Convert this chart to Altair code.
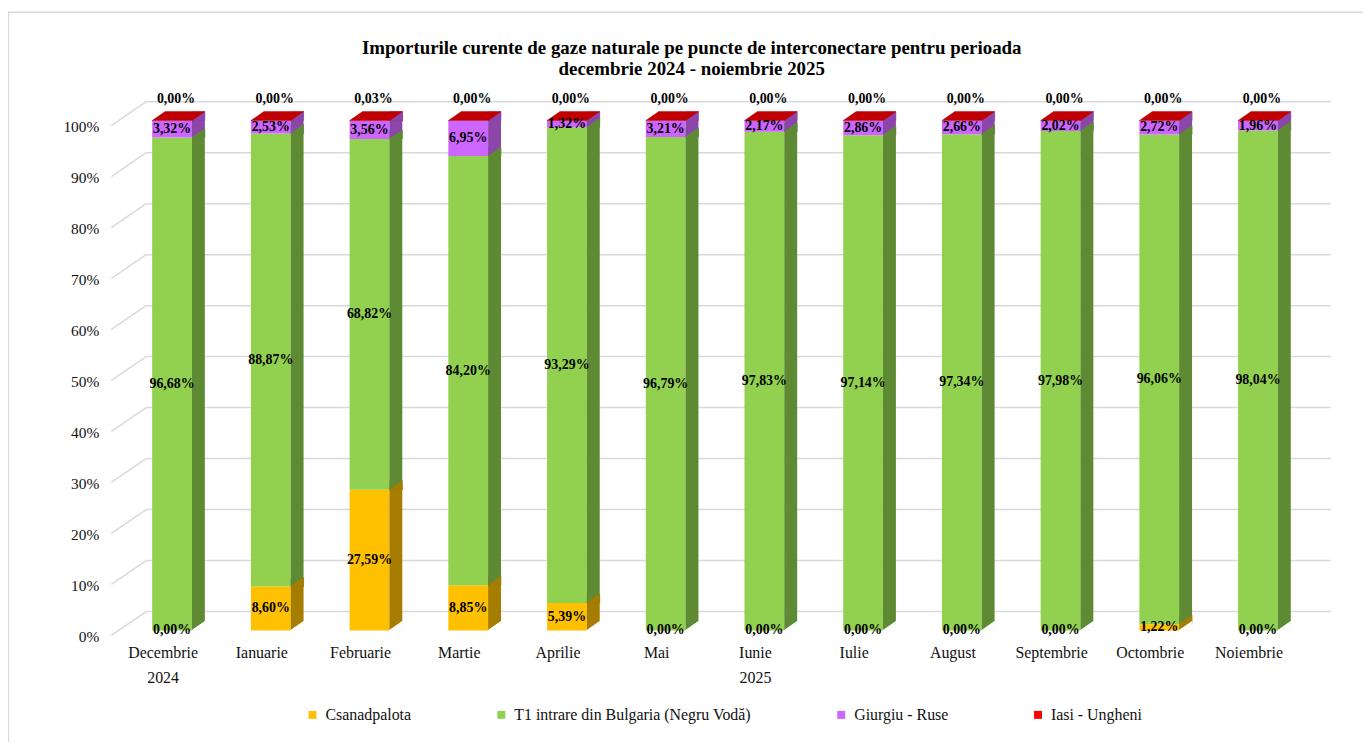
import altair as alt
import pandas as pd

title_line1 = "Importurile  curente de gaze naturale pe puncte de interconectare pentru perioada"
title_line2 = "decembrie 2024 - noiembrie 2025"
months = ["Decembrie", "Ianuarie", "Februarie", "Martie", "Aprilie", "Mai",
          "Iunie", "Iulie", "August", "Septembrie", "Octombrie", "Noiembrie"]
years = ["2024", "", "", "", "", "", "2025", "", "", "", "", ""]
series = ["Csanadpalota", "T1 intrare din Bulgaria (Negru Vodă)", "Giurgiu - Ruse", "Iasi - Ungheni"]
csanadpalota = [0.00, 8.60, 27.59, 8.85, 5.39, 0.00, 0.00, 0.00, 0.00, 0.00, 1.22, 0.00]
t1_bulgaria = [96.68, 88.87, 68.82, 84.20, 93.29, 96.79, 97.83, 97.14, 97.34, 97.98, 96.06, 98.04]
giurgiu_ruse = [3.32, 2.53, 3.56, 6.95, 1.32, 3.21, 2.17, 2.86, 2.66, 2.02, 2.72, 1.96]
iasi_ungheni = [0.00, 0.00, 0.03, 0.00, 0.00, 0.00, 0.00, 0.00, 0.00, 0.00, 0.00, 0.00]
front_colors = ["#FFC000", "#92D050", "#CC66FF", "#FF0000"]
side_colors = ["#A67D00", "#5F8A34", "#8C46AA", "#A00000"]
cap_color = "#C00000"
tick_values = [0, 10, 20, 30, 40, 50, 60, 70, 80, 90, 100]

values = [csanadpalota, t1_bulgaria, giurgiu_ruse, iasi_ungheni]
rows = []
for mi, m in enumerate(months):
    base = 0.0
    for si, s in enumerate(series):
        v = values[si][mi]
        rows.append(dict(month=m, series=s, order=si, value=v, y0=base, y1=base + v,
                         mid=base + v / 2, side=side_colors[si],
                         label=f"{v:.2f}".replace(".", ",") + "%"))
        base += v
df = pd.DataFrame(rows)
nz = df[df.value > 0].copy()
tri = nz.sort_values(["month", "order"], ascending=[True, False])
totals = df.groupby("month", sort=False)["y1"].max().reset_index()
floor = pd.DataFrame({"month": months, "y": [0.0] * len(months)})
grid = pd.DataFrame({"v": tick_values})
yr = pd.DataFrame({"month": months, "year": years})
one = pd.DataFrame({"a": [0]})

W, H = 1192, 513
SERIF = "Liberation Serif"
xs = alt.X("month:N", sort=months, scale=alt.Scale(domain=months, paddingInner=0, paddingOuter=0),
           axis=alt.Axis(title=None, labelAngle=0, labelFont=SERIF, labelFontSize=16,
                         labelColor="#111", domain=False, ticks=False, grid=False,
                         labelPadding=14, labelOffset=-9))
yscale = alt.Scale(domain=[0, 100], nice=False)
yax = alt.Axis(title=None, values=tick_values, labelExpr="datum.value + '%'", labelFont=SERIF,
               labelFontSize=15.5, labelColor="#111", domain=False, ticks=False, grid=False,
               labelPadding=24, labelOffset=6)

SHAPE_S = 66 * 66  # unit = 33 px
cap_path = "M -0.606 0 L 0.606 0 L 1 -0.273 L -0.212 -0.273 Z"
tri_path = "M 0.606 0 L 1 -0.273 L 1 0 Z"

border = alt.Chart(one).mark_rect(fill=None, stroke="#d9d9d9", strokeWidth=1.5).encode(
    x=alt.value(-115), x2=alt.value(W + 120), y=alt.value(-109), y2=alt.value(H + 140))

ttl_style = dict(font=SERIF, fontSize=19, fontWeight="bold", color="#000", baseline="middle", align="center")
title1 = alt.Chart(one).mark_text(text=title_line1, **ttl_style).encode(x=alt.value(572.6), y=alt.value(-73))
title2 = alt.Chart(one).mark_text(text=title_line2, **ttl_style).encode(x=alt.value(572.6), y=alt.value(-52))

gridlines = alt.Chart(grid).mark_rule(color="#d9d9d9", strokeWidth=1.5, yOffset=-19).encode(
    x=alt.value(23.6), x2=alt.value(1215.6), y=alt.Y("v:Q", scale=yscale, axis=yax))
diags = alt.Chart(grid).mark_rule(color="#d9d9d9", strokeWidth=1.5, yOffset=5, y2Offset=-19).encode(
    x=alt.value(-11.4), x2=alt.value(23.6), y=alt.Y("v:Q", scale=yscale), y2="v:Q")

front = alt.Chart(nz).mark_bar(width=40).encode(
    x=xs,
    y=alt.Y("y1:Q", scale=yscale, axis=yax),
    y2="y0:Q",
    color=alt.Color("series:N", scale=alt.Scale(domain=series, range=front_colors),
                    legend=alt.Legend(title=None, orient="none", direction="horizontal",
                                      legendX=183, legendY=H + 77, symbolType="square", symbolSize=64,
                                      symbolStrokeWidth=0, labelFont=SERIF, labelFontSize=16,
                                      labelColor="#111", columnPadding=82, labelOffset=5, padding=0,
                                      labelLimit=400)),
    order=alt.Order("order:Q"),
)

side = alt.Chart(nz).mark_bar(width=13, xOffset=26.5, yOffset=-9).encode(
    x=alt.X("month:N", sort=months), y=alt.Y("y1:Q", scale=yscale), y2="y0:Q",
    color=alt.Color("side:N", scale=None), order=alt.Order("order:Q"))

tris = alt.Chart(tri).mark_point(shape=tri_path, size=SHAPE_S, filled=True, opacity=1, strokeWidth=0.6).encode(
    x=alt.X("month:N", sort=months), y=alt.Y("y1:Q", scale=yscale),
    color=alt.Color("side:N", scale=None), stroke=alt.Stroke("side:N", scale=None))

floor_tri = alt.Chart(floor).mark_point(shape=tri_path, size=SHAPE_S, filled=True, opacity=1,
                                        color="white", strokeWidth=1, stroke="white").encode(
    x=alt.X("month:N", sort=months), y=alt.Y("y:Q", scale=yscale))

caps = alt.Chart(totals).mark_point(shape=cap_path, size=SHAPE_S, filled=True, opacity=1,
                                    color=cap_color, strokeWidth=0.5, stroke=cap_color).encode(
    x=alt.X("month:N", sort=months), y=alt.Y("y1:Q", scale=yscale))

txt_style = dict(font=SERIF, fontSize=14, fontWeight="bold", color="#000", baseline="middle")
labels_main = alt.Chart(df[df.order < 3]).mark_text(**txt_style).encode(
    x=alt.X("month:N", sort=months), y=alt.Y("mid:Q", scale=yscale), text="label:N")
labels_top = alt.Chart(df[df.order == 3]).mark_text(yOffset=-22, dx=4, **txt_style).encode(
    x=alt.X("month:N", sort=months), y=alt.Y("y1:Q", scale=yscale), text="label:N")

year_txt = alt.Chart(yr).mark_text(font=SERIF, fontSize=16, color="#111", dx=-9,
                                   baseline="middle").encode(
    x=alt.X("month:N", sort=months), y=alt.value(H + 48), text="year:N")

chart = alt.layer(border, title1, title2, gridlines, diags, front, side, tris, floor_tri, caps,
                  labels_main, labels_top, year_txt).properties(
    width=W, height=H,
    padding={"left": 115.4, "top": 111, "right": 56, "bottom": 110},
    autosize=alt.AutoSizeParams(type="none"),
).configure_view(stroke=None)

chart.save("out.html", embed_options={"renderer": "svg", "actions": False})
